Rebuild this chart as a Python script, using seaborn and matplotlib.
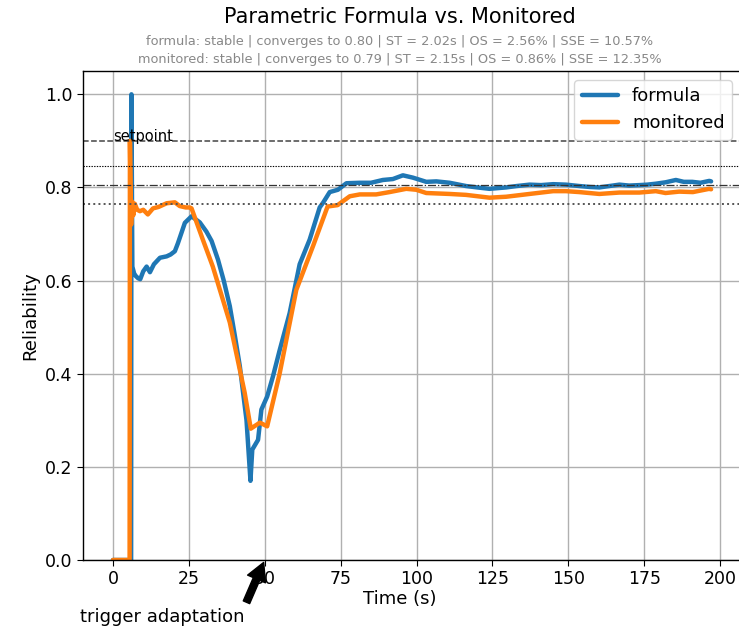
import numpy as np
import pandas as pd
import matplotlib
matplotlib.use("Agg")
import matplotlib.pyplot as plt
import seaborn as sns

# ---- data ----
formula_t = [0, 6.0, 6.1, 6.4, 7.0, 7.5, 8.3, 9.0, 10.0, 11.1, 12.2, 13.5, 15.5,
             17.7, 19.0, 20.4, 21.4, 23.7, 25.9, 28.6, 30.8, 32.5, 34.6, 36.5,
             38.5, 40.2, 41.8, 44.0, 45.3, 45.9, 47.8, 48.9, 50.8, 52.7, 54.9,
             58.2, 61.5, 64.8, 68.1, 69.2, 71.4, 74.1, 76.9, 81.3, 85.0, 88.9,
             92.2, 95.5, 98.8, 103.2, 106.5, 110.9, 116.3, 120.0, 124.0, 129.5,
             133.0, 137.2, 141.0, 145.0, 149.2, 153.6, 157.0, 160.2, 163.5,
             166.8, 170.0, 173.4, 176.0, 178.8, 182.0, 185.4, 188.0, 190.8,
             193.5, 196.4, 197.0]
formula_v = [0.0, 0.0, 1.0, 0.63, 0.615, 0.61, 0.605, 0.603, 0.62, 0.63, 0.618,
             0.635, 0.649, 0.652, 0.656, 0.663, 0.68, 0.724, 0.738, 0.725,
             0.705, 0.685, 0.645, 0.6, 0.545, 0.48, 0.416, 0.30, 0.17, 0.237,
             0.258, 0.323, 0.351, 0.394, 0.45, 0.53, 0.635, 0.688, 0.757, 0.767,
             0.79, 0.795, 0.809, 0.81, 0.81, 0.816, 0.818, 0.826, 0.821, 0.812,
             0.813, 0.81, 0.803, 0.80, 0.797, 0.80, 0.803, 0.806, 0.805, 0.807,
             0.806, 0.803, 0.801, 0.80, 0.803, 0.806, 0.804, 0.805, 0.806, 0.808,
             0.811, 0.816, 0.812, 0.812, 0.810, 0.814, 0.813]

monitored_t = [0, 5.5, 5.6, 6.0, 6.3, 6.7, 7.2, 8.0, 8.9, 10.0, 11.5, 13.2,
               15.0, 17.7, 20.4, 22.0, 24.0, 25.3, 25.9, 29.5, 32.9, 38.5,
               43.4, 45.4, 48.4, 50.8, 54.9, 60.4, 65.9, 70.7, 74.0, 78.0,
               81.3, 86.7, 91.1, 96.6, 99.9, 103.2, 110.9, 116.3, 124.0, 129.5,
               137.2, 145.0, 149.2, 153.6, 160.2, 166.8, 173.4, 178.8, 182.0,
               186.5, 191.0, 196.4, 197.0]
monitored_v = [0.0, 0.0, 0.9, 0.72, 0.77, 0.74, 0.765, 0.752, 0.749, 0.752,
               0.742, 0.755, 0.758, 0.766, 0.768, 0.76, 0.757, 0.757, 0.755,
               0.69, 0.63, 0.51, 0.359, 0.282, 0.295, 0.287, 0.40, 0.58, 0.674,
               0.759, 0.762, 0.781, 0.785, 0.785, 0.79, 0.797, 0.795, 0.788,
               0.786, 0.784, 0.778, 0.78, 0.786, 0.792, 0.792, 0.79, 0.786,
               0.789, 0.789, 0.792, 0.788, 0.791, 0.790, 0.797, 0.796]

series_names = ["formula", "monitored"]
setpoint = 0.9
converge_center = 0.805
band_hi = 0.845
band_lo = 0.765

title = "Parametric Formula vs. Monitored"
sub1 = "formula: stable | converges to 0.80 | ST = 2.02s | OS = 2.56% | SSE = 10.57%"
sub2 = "monitored: stable | converges to 0.79 | ST = 2.15s | OS = 0.86% | SSE = 12.35%"

df = pd.concat([
    pd.DataFrame({"t": formula_t, "v": formula_v, "series": "formula"}),
    pd.DataFrame({"t": monitored_t, "v": monitored_v, "series": "monitored"}),
], ignore_index=True)

sns.set_style("ticks")
plt.rcParams["font.family"] = ["DejaVu Sans"]
for k in ["text.color", "axes.labelcolor", "xtick.color", "ytick.color"]:
    plt.rcParams[k] = "black"

fig = plt.figure(figsize=(7.39, 6.31), dpi=100)
W, H = 739, 631
ax = fig.add_axes([83 / W, (H - 560) / H, (741 - 83) / W, (560 - 71) / H])

sns.lineplot(data=df, x="t", y="v", hue="series", hue_order=series_names,
             palette=["#1f77b4", "#ff7f0e"], estimator=None, sort=False,
             linewidth=3.2, ax=ax)

ax.axhline(setpoint, color="#444444", linestyle="--", linewidth=1.1)
ax.axhline(band_hi, color="black", linestyle=(0, (1.2, 1.2)), linewidth=0.8)
ax.axhline(converge_center, color="#333333", linestyle="-.", linewidth=0.9)
ax.axhline(band_lo, color="#555555", linestyle=":", linewidth=1.4)
ax.text(0, setpoint, "setpoint", fontsize=10.5)

ax.set_xlim(-9.85, 206.85)
ax.set_ylim(0, 1.05)
ax.set_xticks([0, 25, 50, 75, 100, 125, 150, 175, 200])
ax.set_yticks([0.0, 0.2, 0.4, 0.6, 0.8, 1.0])
ax.grid(True, color="#b0b0b0", linewidth=1)
ax.tick_params(labelsize=12.5, direction="out", length=4, color="black")
for s in ax.spines.values():
    s.set_color("black")
    s.set_linewidth(1.0)
ax.set_xlabel("Time (s)", fontsize=13)
ax.set_ylabel("Reliability", fontsize=13)
ax.xaxis.set_label_coords((400 - 83) / 658, -0.062)

handles, labels = ax.get_legend_handles_labels()
ax.legend(handles, labels, loc="upper right", fontsize=13)

ax.annotate("trigger adaptation", xy=(50, 0), xytext=(-11, -0.133),
            fontsize=13,
            arrowprops=dict(facecolor="black", edgecolor="black", shrink=0.05,
                            width=5, headwidth=14, headlength=13),
            annotation_clip=False)

fig.text(400 / W, 1 - 17 / H, title, ha="center", va="center", fontsize=15)
fig.text(400 / W, 1 - 42 / H, sub1, ha="center", va="center", fontsize=9.3,
         color="#888888")
fig.text(400 / W, 1 - 60 / H, sub2, ha="center", va="center", fontsize=9.3,
         color="#888888")

fig.savefig("out.png", dpi=100)
